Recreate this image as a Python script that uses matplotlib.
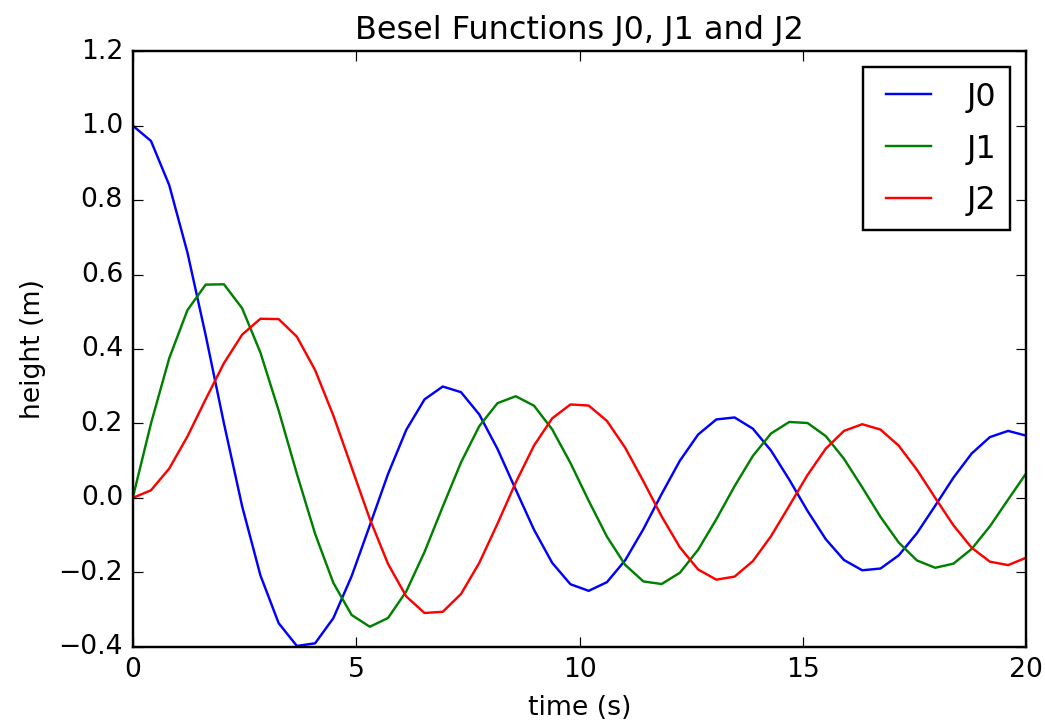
import numpy as np
import matplotlib
matplotlib.use("Agg")
import matplotlib.pyplot as plt

plt.style.use("classic")
plt.rcParams["font.size"] = 11

# time samples (50 points between 0 and 20)
time = np.linspace(0, 20, 50)

j0 = [1.0, 0.9588, 0.8402, 0.6589, 0.4367, 0.2004, -0.0227, -0.2079, -0.3364, -0.3977,
      -0.3905, -0.3229, -0.2104, -0.0737, 0.0645, 0.1830, 0.2647, 0.2992, 0.2840, 0.2242,
      0.1316, 0.0224, -0.0853, -0.1745, -0.2319, -0.2496, -0.2264, -0.1676, -0.0838, 0.0105,
      0.0999, 0.1702, 0.2108, 0.2161, 0.1861, 0.1270, 0.0489, -0.0350, -0.1109, -0.1669,
      -0.1944, -0.1897, -0.1543, -0.0947, -0.0210, 0.0544, 0.1193, 0.1634, 0.1800, 0.1670]

j1 = [0.0, 0.1999, 0.3751, 0.5044, 0.5729, 0.5738, 0.5093, 0.3904, 0.2349, 0.0648,
      -0.0966, -0.2283, -0.3144, -0.3461, -0.3225, -0.2509, -0.1451, -0.0232, 0.0954, 0.1926,
      0.2545, 0.2731, 0.2477, 0.1840, 0.0938, -0.0076, -0.1039, -0.1799, -0.2244, -0.2313,
      -0.2010, -0.1393, -0.0572, 0.0315, 0.1126, 0.1731, 0.2040, 0.2012, 0.1660, 0.1049,
      0.0283, -0.0509, -0.1199, -0.1680, -0.1877, -0.1766, -0.1371, -0.0763, -0.0043, 0.0668]

j2 = [0.0, 0.0205, 0.0788, 0.1651, 0.2651, 0.3619, 0.4386, 0.4812, 0.4803, 0.4330,
      0.3432, 0.2212, 0.0821, -0.0568, -0.1774, -0.2649, -0.3091, -0.3059, -0.2580, -0.1746,
      -0.0693, 0.0413, 0.1405, 0.2137, 0.2510, 0.2481, 0.2068, 0.1349, 0.0446, -0.0496,
      -0.1327, -0.1923, -0.2196, -0.2114, -0.1699, -0.1027, -0.0211, 0.0616, 0.1323, 0.1801,
      0.1979, 0.1836, 0.1403, 0.0755, 0.0001, -0.0736, -0.1339, -0.1713, -0.1805, -0.1603]

fig = plt.figure(figsize=(6.0, 4.17), dpi=174.2)
fig.subplots_adjust(left=0.127, right=0.982, top=0.929, bottom=0.109)

plt.plot(time, j0, "b", label="J0")
plt.plot(time, j1, "g", label="J1")
plt.plot(time, j2, "r", label="J2")

plt.title("Besel Functions J0, J1 and J2")
plt.xlabel("time (s)")
plt.ylabel("height (m)")
plt.ylim(-0.4, 1.2)

plt.legend(labelspacing=0.65, borderpad=0.45)

plt.savefig("out.png", dpi=174.2)
